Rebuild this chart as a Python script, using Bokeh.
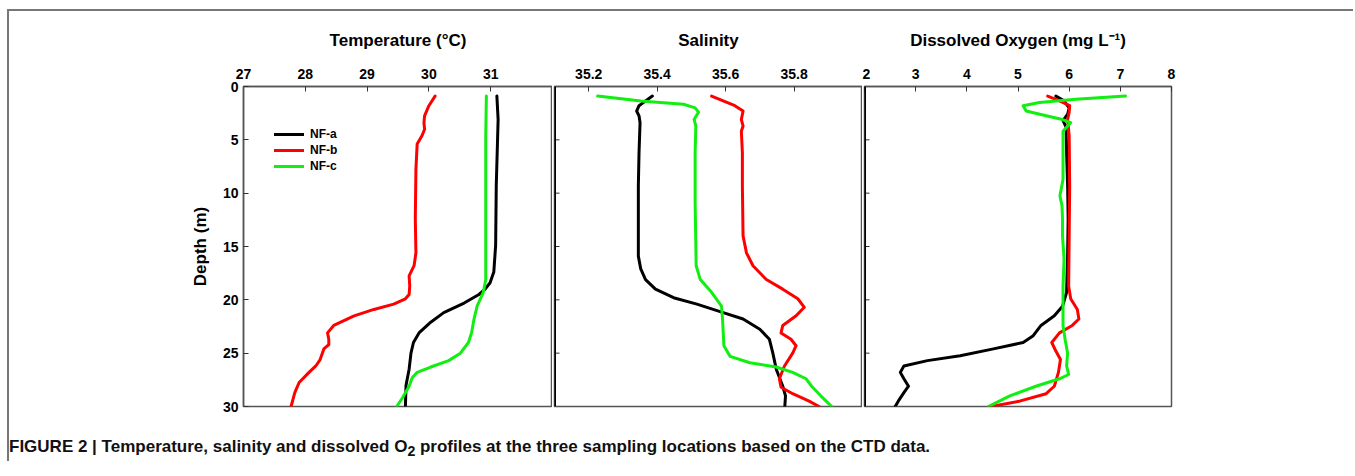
from bokeh.plotting import figure
from bokeh.models import Range1d, FixedTicker, Legend, LegendItem, Div, Span
from bokeh.layouts import row, column
from bokeh.embed import file_html
from bokeh.resources import INLINE

FONT = "Liberation Sans"

series_names = ["NF-a", "NF-b", "NF-c"]
series_colors = ["#000000", "#ff0000", "#11ee11"]

depth_ticks = [0, 5, 10, 15, 20, 25, 30]
temp_ticks = [27, 28, 29, 30, 31]
sal_ticks = [35.2, 35.4, 35.6, 35.8]
do_ticks = [2, 3, 4, 5, 6, 7, 8]

# Temperature (deg C)
temp_a_depth = [0.9, 3.1, 9.3, 14.9, 17.4, 18.4, 19.0, 19.5, 20.3, 21.2, 22.1, 23.1, 24.0, 25.0, 26.5, 28.0, 30.0]
temp_a = [31.10, 31.12, 31.09, 31.08, 31.05, 30.99, 30.91, 30.81, 30.57, 30.24, 30.03, 29.84, 29.75, 29.71, 29.68, 29.63, 29.62]
temp_b_depth = [0.9, 1.8, 2.75, 3.4, 4.0, 4.6, 5.4, 7.75, 12.4, 15.6, 16.8, 17.75, 18.7, 19.5, 19.9, 20.4, 20.9, 21.5,
                22.4, 23.1, 23.7, 24.2, 24.6, 25.6, 26.2, 26.8, 27.75, 28.7, 30.0]
temp_b = [30.10, 30.00, 29.93, 29.92, 29.93, 29.89, 29.81, 29.79, 29.78, 29.79, 29.76, 29.68, 29.69, 29.68, 29.62, 29.43,
          29.11, 28.79, 28.46, 28.36, 28.38, 28.38, 28.30, 28.24, 28.17, 28.06, 27.90, 27.83, 27.77]
temp_c_depth = [0.9, 4.6, 9.3, 14.0, 18.1, 19.3, 20.6, 21.8, 23.1, 24.0, 25.0, 25.7, 26.3, 26.8, 27.3, 28.1, 29.2, 30.0]
temp_c = [30.93, 30.92, 30.92, 30.92, 30.92, 30.88, 30.78, 30.73, 30.69, 30.64, 30.51, 30.32, 30.03, 29.81, 29.73,
          29.68, 29.57, 29.48]

# Salinity
sal_a_depth = [0.9, 1.35, 1.8, 2.3, 2.75, 3.4, 6.2, 9.3, 12.4, 15.9, 17.1, 18.1, 19.0, 19.8, 20.4, 21.2, 21.8, 22.75,
               23.7, 25.0, 26.5, 28.1, 29.0, 30.0]
sal_a = [35.386, 35.366, 35.347, 35.340, 35.347, 35.350, 35.347, 35.345, 35.345, 35.345, 35.352, 35.366, 35.395,
         35.448, 35.516, 35.593, 35.651, 35.700, 35.728, 35.738, 35.748, 35.767, 35.775, 35.773]
sal_b_depth = [0.9, 1.35, 1.8, 2.3, 3.1, 3.7, 4.2, 6.2, 9.3, 14.0, 15.6, 16.8, 18.1, 19.0, 19.9, 20.7, 21.5, 22.4,
               23.1, 23.7, 24.3, 25.0, 26.2, 27.4, 28.2, 28.8, 29.5, 30.0]
sal_b = [35.559, 35.593, 35.627, 35.651, 35.646, 35.651, 35.646, 35.649, 35.649, 35.651, 35.661, 35.680, 35.719,
         35.767, 35.811, 35.830, 35.806, 35.767, 35.762, 35.791, 35.806, 35.796, 35.772, 35.757, 35.762, 35.796,
         35.844, 35.873]
sal_c_depth = [0.9, 1.35, 1.66, 2.0, 2.4, 3.1, 3.7, 6.2, 11.0, 16.8, 18.1, 19.3, 20.6, 21.8, 24.3, 25.3, 25.9, 26.3,
               26.8, 27.4, 28.2, 29.0, 30.0]
sal_c = [35.226, 35.352, 35.477, 35.511, 35.521, 35.508, 35.513, 35.511, 35.511, 35.514, 35.526, 35.559, 35.588,
         35.591, 35.595, 35.613, 35.671, 35.748, 35.796, 35.835, 35.854, 35.878, 35.910]

# Dissolved oxygen (mg/L)
do_a_depth = [0.9, 1.35, 2.0, 2.6, 3.2, 3.8, 6.2, 9.3, 12.4, 15.6, 19.3, 20.6, 21.5, 22.4, 23.4, 24.0, 24.6, 25.25,
              25.7, 26.2, 26.8, 27.4, 28.1, 28.7, 29.5, 30.0]
do_a = [5.74, 5.90, 6.00, 5.97, 5.88, 5.94, 5.95, 5.97, 5.98, 5.97, 5.95, 5.87, 5.71, 5.45, 5.29, 5.10, 4.52, 3.87,
        3.23, 2.77, 2.70, 2.77, 2.86, 2.77, 2.66, 2.60]
do_b_depth = [0.9, 1.35, 1.8, 2.4, 3.1, 4.6, 9.3, 14.0, 18.7, 19.9, 20.9, 21.8, 22.4, 23.1, 24.0, 24.8, 25.6, 26.8,
              28.1, 28.8, 29.5, 30.0]
do_b = [5.58, 5.81, 6.01, 6.00, 5.97, 6.00, 6.01, 6.00, 5.99, 6.03, 6.16, 6.19, 6.06, 5.81, 5.66, 5.74, 5.83, 5.79,
        5.71, 5.55, 5.03, 4.48]
do_c_depth = [0.9, 1.2, 1.5, 1.8, 2.3, 2.75, 3.1, 3.4, 3.7, 4.2, 6.2, 8.7, 10.25, 11.2, 12.4, 14.0, 16.2, 18.7, 20.6,
              22.4, 23.7, 25.0, 26.2, 27.0, 27.4, 28.1, 29.0, 30.0]
do_c = [7.10, 6.13, 5.42, 5.10, 5.16, 5.55, 5.87, 6.03, 5.97, 5.88, 5.88, 5.88, 5.82, 5.86, 5.87, 5.87, 5.90, 5.88,
        5.88, 5.88, 5.92, 5.97, 5.95, 5.99, 5.81, 5.35, 4.84, 4.42]


def make_panel(title, xr, xticks, border_left, frame_w, border_right, first):
    p = figure(frame_width=frame_w, frame_height=320, x_range=Range1d(*xr), y_range=Range1d(30, 0),
               x_axis_location="above", output_backend="svg", toolbar_location=None,
               min_border_left=border_left, min_border_right=border_right, min_border_top=75,
               min_border_bottom=31, title=title, background_fill_color="white", border_fill_color="white")
    p.title.align = "center"
    p.title.text_font = FONT
    p.title.text_font_size = "17px"
    p.title.text_font_style = "bold"
    p.title.text_color = "black"
    p.title.standoff = 31
    p.grid.visible = False
    p.outline_line_color = "#555555"
    p.outline_line_width = 1.5

    xa = p.xaxis[0]
    xa.ticker = FixedTicker(ticks=xticks)
    xa.major_tick_in = 5
    xa.major_tick_out = 0
    xa.minor_tick_line_color = None
    xa.axis_line_color = "#555555"
    xa.axis_line_width = 1.5
    xa.major_tick_line_color = "#333333"
    xa.major_label_text_font = FONT
    xa.major_label_text_font_size = "14px"
    xa.major_label_text_font_style = "bold"
    xa.major_label_text_color = "black"
    xa.major_label_standoff = 8

    ya = p.yaxis[0]
    if first:
        ya.ticker = FixedTicker(ticks=depth_ticks)
        ya.major_tick_in = 5
        ya.major_tick_out = 0
        ya.minor_tick_line_color = None
        ya.major_tick_line_color = "#333333"
        ya.axis_line_color = "#555555"
        ya.axis_line_width = 1.5
        ya.major_label_text_font = FONT
        ya.major_label_text_font_size = "14px"
        ya.major_label_text_font_style = "bold"
        ya.major_label_text_color = "black"
        ya.major_label_standoff = 5
        ya.axis_label = "Depth (m)"
        ya.axis_label_text_font = FONT
        ya.axis_label_text_font_size = "17px"
        ya.axis_label_text_font_style = "bold"
        ya.axis_label_text_color = "black"
        ya.axis_label_standoff = 10
    else:
        ya.visible = False
        # thick black left boundary of the panel, with short inward depth ticks
        p.add_layout(Span(location=xr[0], dimension="height", line_color="black", line_width=3))
        p.ray(x=[xr[0]] * (len(depth_ticks) - 2), y=depth_ticks[1:-1], length=5, length_units="screen",
              angle=0, line_color="#333333", line_width=1)
    return p


p1 = make_panel("Temperature (°C)", (27, 32), temp_ticks, 234, 309, 0, True)
p2 = make_panel("Salinity", (35.1, 36.0), sal_ticks, 2, 308, 0, False)
p3 = make_panel("Dissolved Oxygen (mg L⁻¹)", (2, 8), do_ticks, 2, 307, 20, False)

renderers = []
for p, data in [
    (p1, [(temp_a, temp_a_depth), (temp_b, temp_b_depth), (temp_c, temp_c_depth)]),
    (p2, [(sal_a, sal_a_depth), (sal_b, sal_b_depth), (sal_c, sal_c_depth)]),
    (p3, [(do_a, do_a_depth), (do_b, do_b_depth), (do_c, do_c_depth)]),
]:
    rs = []
    for (xs, ys), col in zip(data, series_colors):
        r = p.line(xs, ys, line_color=col, line_width=3, line_join="round", line_cap="round")
        rs.append(r)
    renderers.append(rs)

legend = Legend(items=[LegendItem(label=n, renderers=[r]) for n, r in zip(series_names, renderers[0])],
                location=(31, 232), glyph_width=30, glyph_height=16, label_height=16, spacing=0,
                padding=0, margin=0, label_standoff=6, border_line_alpha=0, background_fill_alpha=0,
                label_text_font=FONT, label_text_font_size="12px", label_text_font_style="bold",
                label_text_color="black")
p1.add_layout(legend, "center")

caption = Div(text="FIGURE 2 | Temperature, salinity and dissolved O<sub>2</sub> profiles at the three sampling "
                   "locations based on the CTD data.",
              width=1344, height=24, margin=(0, 0, 0, 0),
              styles={"font-family": FONT, "font-size": "17px", "font-weight": "bold", "line-height": "20px",
                      "color": "#111111"})

layout = column(row(p1, p2, p3), caption, margin=(9, 0, 0, 7),
                styles={"border-top": "2px solid #777777", "border-left": "2px solid #777777"})

open("out.html", "w").write(file_html(layout, INLINE))
